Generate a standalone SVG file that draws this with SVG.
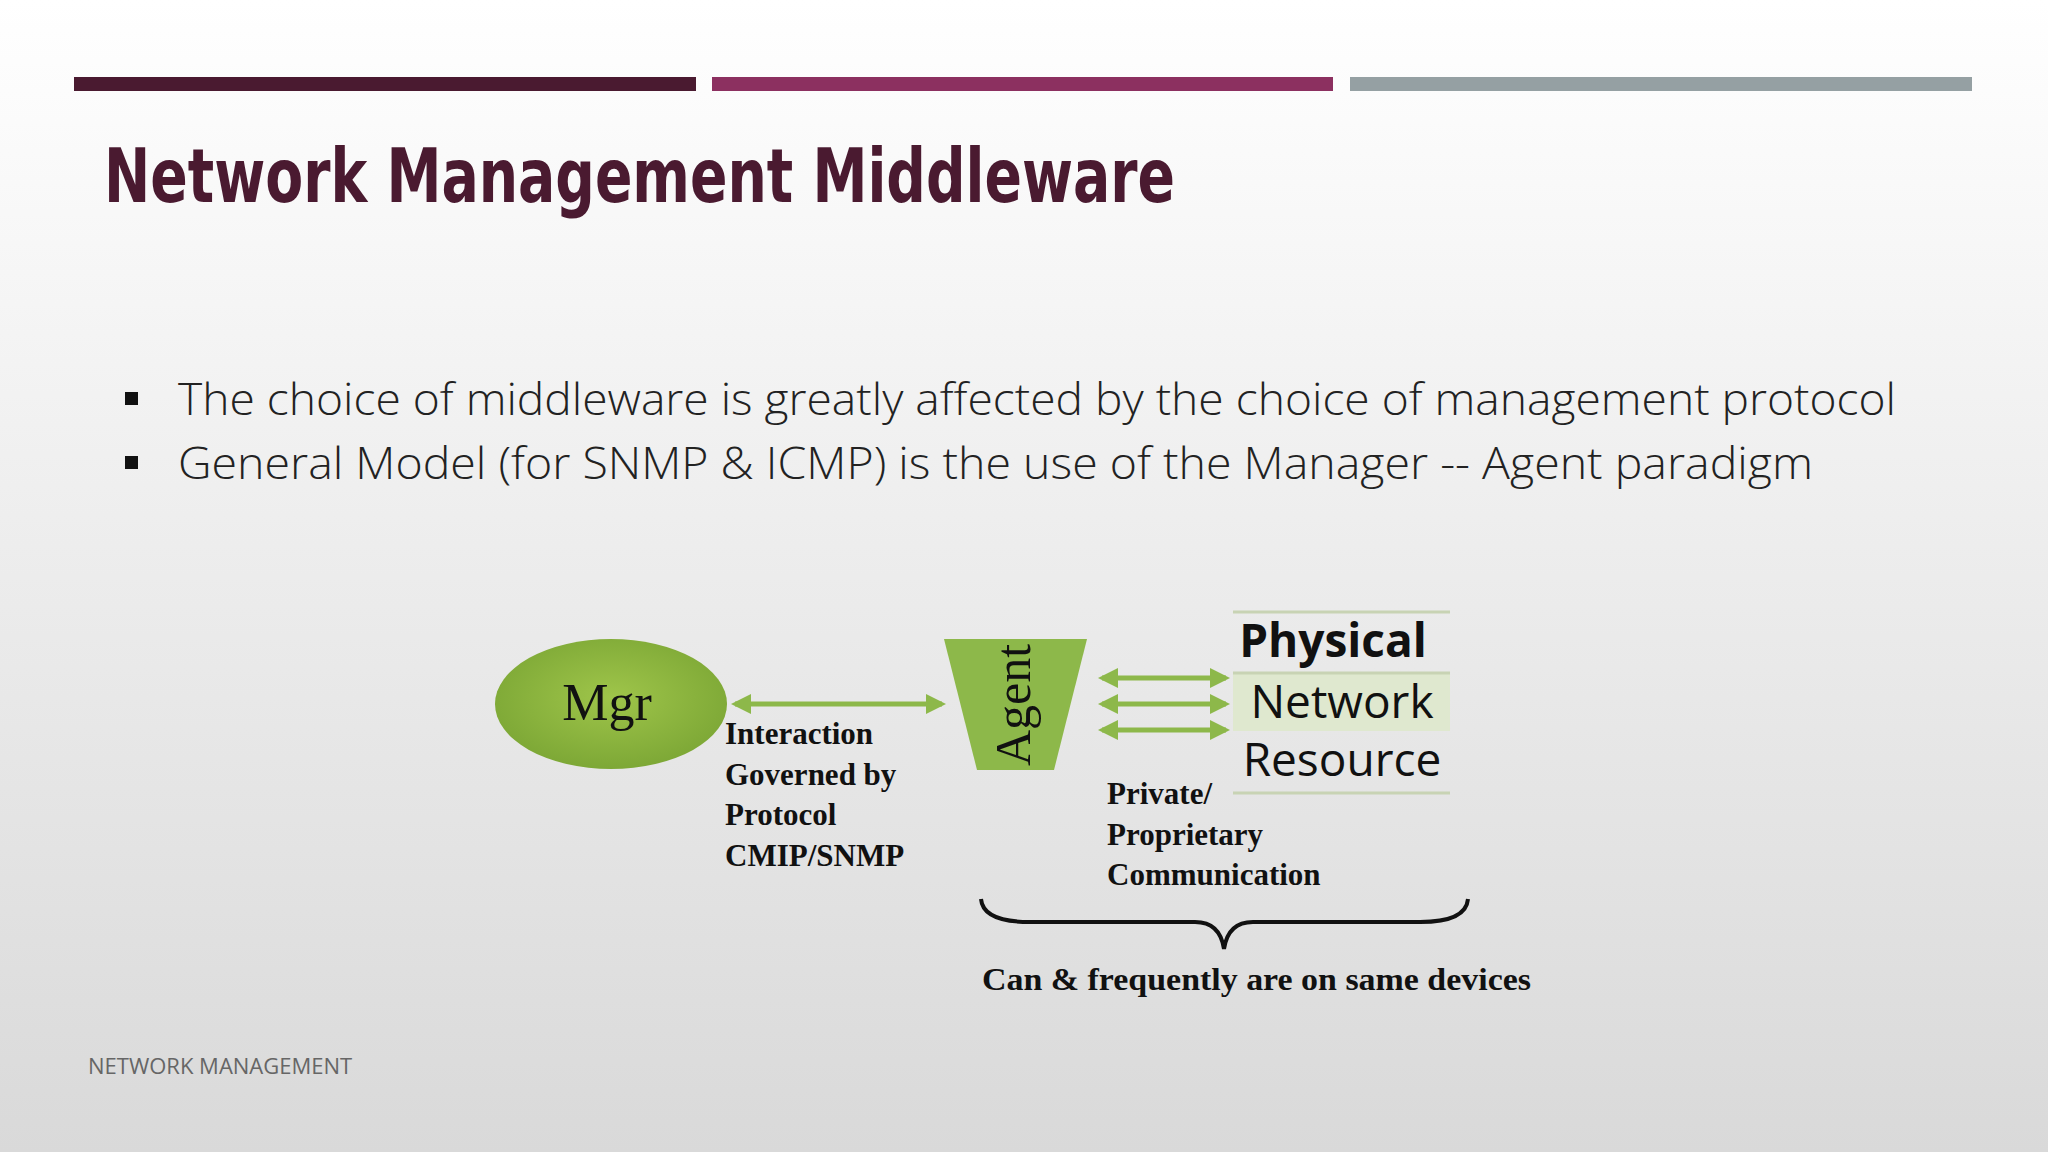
<svg xmlns="http://www.w3.org/2000/svg" width="2048" height="1152" viewBox="0 0 2048 1152">
<defs>
<linearGradient id="bg" x1="0" y1="0" x2="0" y2="1"><stop offset="0" stop-color="#ffffff"/><stop offset="1" stop-color="#d9d9d9"/></linearGradient>
<radialGradient id="mg" cx="0.5" cy="0.45" r="0.6"><stop offset="0" stop-color="#9fc54a"/><stop offset="1" stop-color="#7aa534"/></radialGradient>
<marker id="ah" viewBox="0 0 10 10" refX="8" refY="5" markerWidth="4" markerHeight="4" orient="auto-start-reverse"><path d="M0,0 L10,5 L0,10 z" fill="#8db84a"/></marker>
</defs>
<style>
.lbl{font-family:"Liberation Serif",serif;font-weight:bold;font-size:31px;fill:#111}
.res{font-family:"Open Sans","Noto Sans",sans-serif;font-size:46px;fill:#111;text-anchor:middle}
.bul{font-family:"Open Sans",sans-serif;font-weight:300;font-size:45px;fill:#222}
.ar{stroke:#8db84a;stroke-width:5;fill:none;marker-start:url(#ah);marker-end:url(#ah)}
</style>
<rect width="2048" height="1152" fill="url(#bg)"/>
<rect x="74" y="77" width="622" height="14" fill="#4a1a30"/>
<rect x="712" y="77" width="621" height="14" fill="#8c3060"/>
<rect x="1350" y="77" width="622" height="14" fill="#95a0a3"/>
<text x="104" y="202" font-family="DejaVu Sans Condensed,sans-serif" font-weight="bold" font-size="74" fill="#4a1a30" textLength="1071" lengthAdjust="spacingAndGlyphs">Network Management Middleware</text>
<rect x="125" y="392" width="13" height="13" fill="#111"/>
<rect x="125" y="456" width="13" height="13" fill="#111"/>
<text class="bul" x="178" y="415" textLength="1718" lengthAdjust="spacingAndGlyphs">The choice of middleware is greatly affected by the choice  of management protocol</text>
<text class="bul" x="178" y="479" textLength="1635" lengthAdjust="spacingAndGlyphs">General Model (for SNMP &amp; ICMP) is the use of the  Manager -- Agent paradigm</text>
<g id="mgr"><ellipse cx="611" cy="704" rx="116" ry="65" fill="url(#mg)"/><text x="607" y="720" font-family="Liberation Serif,serif" font-size="52" text-anchor="middle" fill="#111">Mgr</text></g>
<g id="agent"><polygon points="944,639 1087,639 1054,770 977,770" fill="#8db84a"/><text transform="translate(1030,705) rotate(-90)" font-family="Liberation Serif,serif" font-size="50" text-anchor="middle" fill="#111">Agent</text></g>
<g id="resource">
<rect x="1233" y="673" width="217" height="58" fill="#dfe8cf"/>
<line x1="1233" y1="612" x2="1450" y2="612" stroke="#c8d3b4" stroke-width="3"/>
<line x1="1233" y1="673" x2="1450" y2="673" stroke="#c8d3b4" stroke-width="3"/>
<line x1="1233" y1="793" x2="1450" y2="793" stroke="#c8d3b4" stroke-width="3"/>
<text class="res" x="1333" y="657" font-weight="bold">Physical</text>
<text class="res" x="1342" y="718">Network</text>
<text class="res" x="1342" y="776">Resource</text>
</g>
<g id="connectors">
<line class="ar" x1="735" y1="704" x2="942" y2="704"/>
<line class="ar" x1="1102" y1="678" x2="1226" y2="678"/>
<line class="ar" x1="1102" y1="704" x2="1226" y2="704"/>
<line class="ar" x1="1102" y1="730" x2="1226" y2="730"/>
<path d="M981,899 Q983,922 1030,922 L1195,922 Q1220,922 1224,949 Q1228,922 1253,922 L1420,922 Q1466,922 1468,899" fill="none" stroke="#111" stroke-width="4"/>
</g>
<text class="lbl" x="725" y="744">Interaction</text>
<text class="lbl" x="725" y="785">Governed by</text>
<text class="lbl" x="725" y="825">Protocol</text>
<text class="lbl" x="725" y="866">CMIP/SNMP</text>
<text class="lbl" x="1107" y="804">Private/</text>
<text class="lbl" x="1107" y="845">Proprietary</text>
<text class="lbl" x="1107" y="885">Communication</text>
<text class="lbl" x="982" y="990" textLength="549" lengthAdjust="spacingAndGlyphs">Can &amp; frequently are on same devices</text>
<text x="88" y="1074" font-family="Open Sans,sans-serif" font-size="22" fill="#666">NETWORK MANAGEMENT</text>
</svg>
